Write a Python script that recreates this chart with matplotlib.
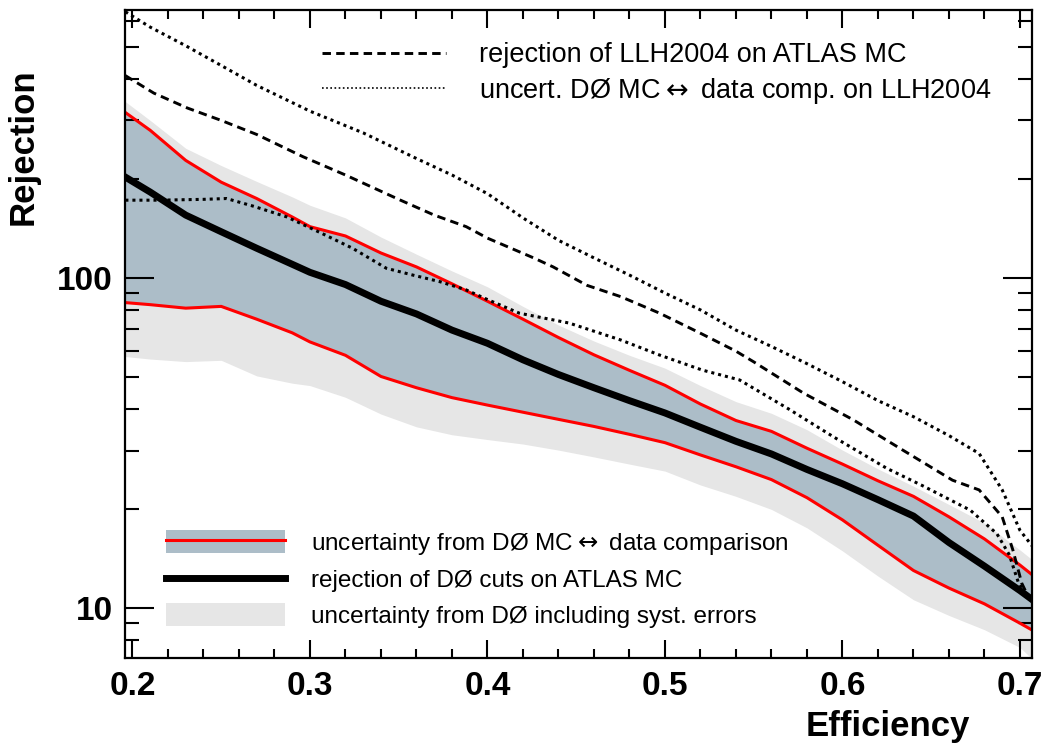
import matplotlib
matplotlib.use('Agg')
import matplotlib.pyplot as plt
from matplotlib.patches import Patch
from matplotlib.lines import Line2D
from matplotlib.ticker import FixedLocator, NullFormatter, MultipleLocator

plt.rcParams['font.family'] = ['Liberation Sans', 'DejaVu Sans']

# efficiency grid for the D0 bands
eff = [0.196, 0.21, 0.23, 0.25, 0.27, 0.29, 0.30, 0.32, 0.34, 0.36, 0.38, 0.40,
       0.42, 0.44, 0.46, 0.48, 0.50, 0.52, 0.54, 0.56, 0.58, 0.60, 0.62, 0.64,
       0.66, 0.68, 0.70, 0.707]
d0_central = [202, 182, 155, 138, 123, 110, 104, 95.5, 85, 77.8, 69.5, 63.4,
              56.5, 51, 46.5, 42.5, 39, 35.3, 32, 29.3, 26.3, 23.8, 21.3, 19,
              15.8, 13.4, 11.3, 10.6]
d0_up = [317, 280, 227, 195, 174, 153, 143, 134, 119, 108, 96, 85,
         75, 66, 58.5, 52.5, 47.3, 41.5, 37, 34.3, 30.5, 27.3, 24.3, 21.8,
         18.9, 16.2, 13.5, 12.6]
d0_down = [84.2, 83, 81, 82, 75, 68.2, 64, 58.3, 50.3, 46.5, 43.4, 41.2,
           39.2, 37.3, 35.5, 33.6, 31.7, 29.1, 26.8, 24.5, 21.6, 18.5, 15.5, 13.0,
           11.5, 10.3, 9.0, 8.57]
syst_up = [342, 300, 247, 219, 196, 176, 166, 152, 133, 118, 105, 94,
           82, 72, 64.4, 58.3, 53.3, 47.2, 42.2, 38.9, 34.7, 30.1, 26.4, 23.4,
           20.6, 18.1, 15.0, 14.0]
syst_down = [57.8, 56.8, 55.8, 56.3, 50.5, 48, 47.2, 43.5, 38.7, 35.4, 33.5, 32.4,
             31.4, 30.1, 28.7, 27.3, 26, 23.6, 21.8, 19.9, 17.5, 14.9, 12.5, 10.6,
             9.5, 8.6, 7.6, 7.0]

# LLH2004 rejection
llh_eff = [0.196, 0.212, 0.231, 0.25, 0.27, 0.296, 0.32, 0.351, 0.37, 0.388, 0.40,
           0.426, 0.437, 0.456, 0.475, 0.497, 0.52, 0.54, 0.55, 0.578, 0.606,
           0.634, 0.662, 0.677, 0.69, 0.696, 0.701, 0.703]
llh_rej = [410, 363, 327, 300, 272, 233, 205, 172, 155, 143, 132,
           115, 108, 95, 87.8, 78.2, 68, 60, 55.7, 44.8, 37.2,
           30.1, 24.4, 22.8, 18.9, 15.0, 11.9, 11.3]

# uncertainty of D0 MC <-> data comparison applied on LLH2004
unc_up_eff = [0.196, 0.21, 0.23, 0.25, 0.27, 0.30, 0.33, 0.36, 0.38, 0.40, 0.42,
              0.44, 0.46, 0.48, 0.50, 0.52, 0.54, 0.56, 0.58, 0.60, 0.62, 0.64,
              0.66, 0.677, 0.69, 0.70, 0.707]
unc_up = [640, 575, 505, 440, 383, 320, 275, 230, 205, 180, 152,
          130, 115, 102, 90, 80, 69.5, 62, 55, 48.5, 42.5, 38,
          33.3, 29.4, 22.8, 17.2, 15.4]
unc_dn_eff = [0.196, 0.215, 0.24, 0.253, 0.268, 0.287, 0.306, 0.324, 0.343, 0.358,
              0.373, 0.388, 0.40, 0.418, 0.446, 0.475, 0.497, 0.521, 0.542, 0.57,
              0.595, 0.625, 0.645, 0.672, 0.687, 0.694, 0.699, 0.701]
unc_dn = [172, 172, 173, 174, 165, 153, 137, 123, 107, 102,
          97.5, 92, 86, 78.2, 73, 64.9, 58.4, 52.6, 49.1, 40,
          33, 26.5, 23.5, 19.8, 16.8, 14.5, 12.0, 11.5]

x_ticks = [0.2, 0.3, 0.4, 0.5, 0.6, 0.7]
y_ticks = [10, 100]
y_minor = [8, 9, 20, 30, 40, 50, 60, 70, 80, 90, 200, 300, 400, 500, 600]

band_col = '#acbdc8'
grey_col = '#e6e6e6'
arrow = r'$\leftrightarrow$'

fig = plt.figure(figsize=(10.47, 7.51), dpi=100)
ax = fig.add_axes([0.1194, 0.1238, 0.8663, 0.8629])

ax.fill_between(eff, syst_down, syst_up, color=grey_col, lw=0)
ax.fill_between(eff, d0_down, d0_up, color=band_col, lw=0)
ax.plot(eff, d0_up, color='red', lw=2.2)
ax.plot(eff, d0_down, color='red', lw=2.2)
ax.plot(llh_eff, llh_rej, color='black', lw=2.1, ls=(0, (2.9, 1.8)))
ax.plot(unc_up_eff, unc_up, color='black', lw=2.2, ls=(0, (1, 1.3)))
ax.plot(unc_dn_eff, unc_dn, color='black', lw=2.2, ls=(0, (1, 1.3)))
ax.plot(eff, d0_central, color='black', lw=5)

ax.set_yscale('log')
ax.set_xlim(0.1958, 0.7068)
ax.set_ylim(7.06, 648)

ax.set_xticks(x_ticks)
ax.set_xticklabels([f'{v:.1f}' for v in x_ticks])
ax.xaxis.set_minor_locator(MultipleLocator(0.02))
ax.yaxis.set_major_locator(FixedLocator(y_ticks))
ax.set_yticklabels([str(v) for v in y_ticks])
ax.yaxis.set_minor_locator(FixedLocator(y_minor))
ax.yaxis.set_minor_formatter(NullFormatter())

ax.tick_params(axis='both', which='both', direction='in', top=True, right=True,
               width=1.5, colors='black')
ax.tick_params(axis='x', which='major', length=13, pad=9, labelsize=24)
ax.tick_params(axis='x', which='minor', length=6.5)
ax.tick_params(axis='y', which='major', length=21, pad=9, labelsize=24)
ax.tick_params(axis='y', which='minor', length=10)
for lab in ax.get_xticklabels() + ax.get_yticklabels():
    lab.set_fontweight('bold')
for sp in ax.spines.values():
    sp.set_linewidth(1.6)

ax.set_ylabel('Rejection', fontsize=25, fontweight='bold')
ax.yaxis.set_label_coords(-0.112, 0.789)
ax.yaxis.label.set_va('center')
ax.set_xlabel('Efficiency', fontsize=25, fontweight='bold')
ax.xaxis.set_label_coords(0.841, -0.105)
ax.xaxis.label.set_va('center')

h_llh = Line2D([], [], color='black', lw=2.1, ls=(0, (2.9, 1.8)))
h_unc = Line2D([], [], color='black', lw=1.2, ls=(0, (1, 1.5)))
leg1 = ax.legend([h_llh, h_unc],
                 ['rejection of LLH2004 on ATLAS MC',
                  'uncert. DØ MC' + arrow + ' data comp. on LLH2004'],
                 loc='upper left', bbox_to_anchor=(0.217, 0.950), frameon=False,
                 fontsize=19.5, handlelength=4.6, handletextpad=1.22,
                 labelspacing=0.28, borderpad=0, borderaxespad=0)
ax.add_artist(leg1)

h_band = (Patch(facecolor=band_col, edgecolor='none'), Line2D([], [], color='red', lw=2.2))
h_cent = Line2D([], [], color='black', lw=5)
h_syst = Patch(facecolor=grey_col, edgecolor='none')
ax.legend([h_band, h_cent, h_syst],
          ['uncertainty from DØ MC' + arrow + ' data comparison',
           'rejection of DØ cuts on ATLAS MC',
           'uncertainty from DØ including syst. errors'],
          loc='upper left', bbox_to_anchor=(0.0452, 0.1974), frameon=False,
          fontsize=17.5, handlelength=4.9, handleheight=1.07, handletextpad=1.07,
          labelspacing=0.45, borderpad=0, borderaxespad=0)

fig.savefig('out.png', dpi=100)
